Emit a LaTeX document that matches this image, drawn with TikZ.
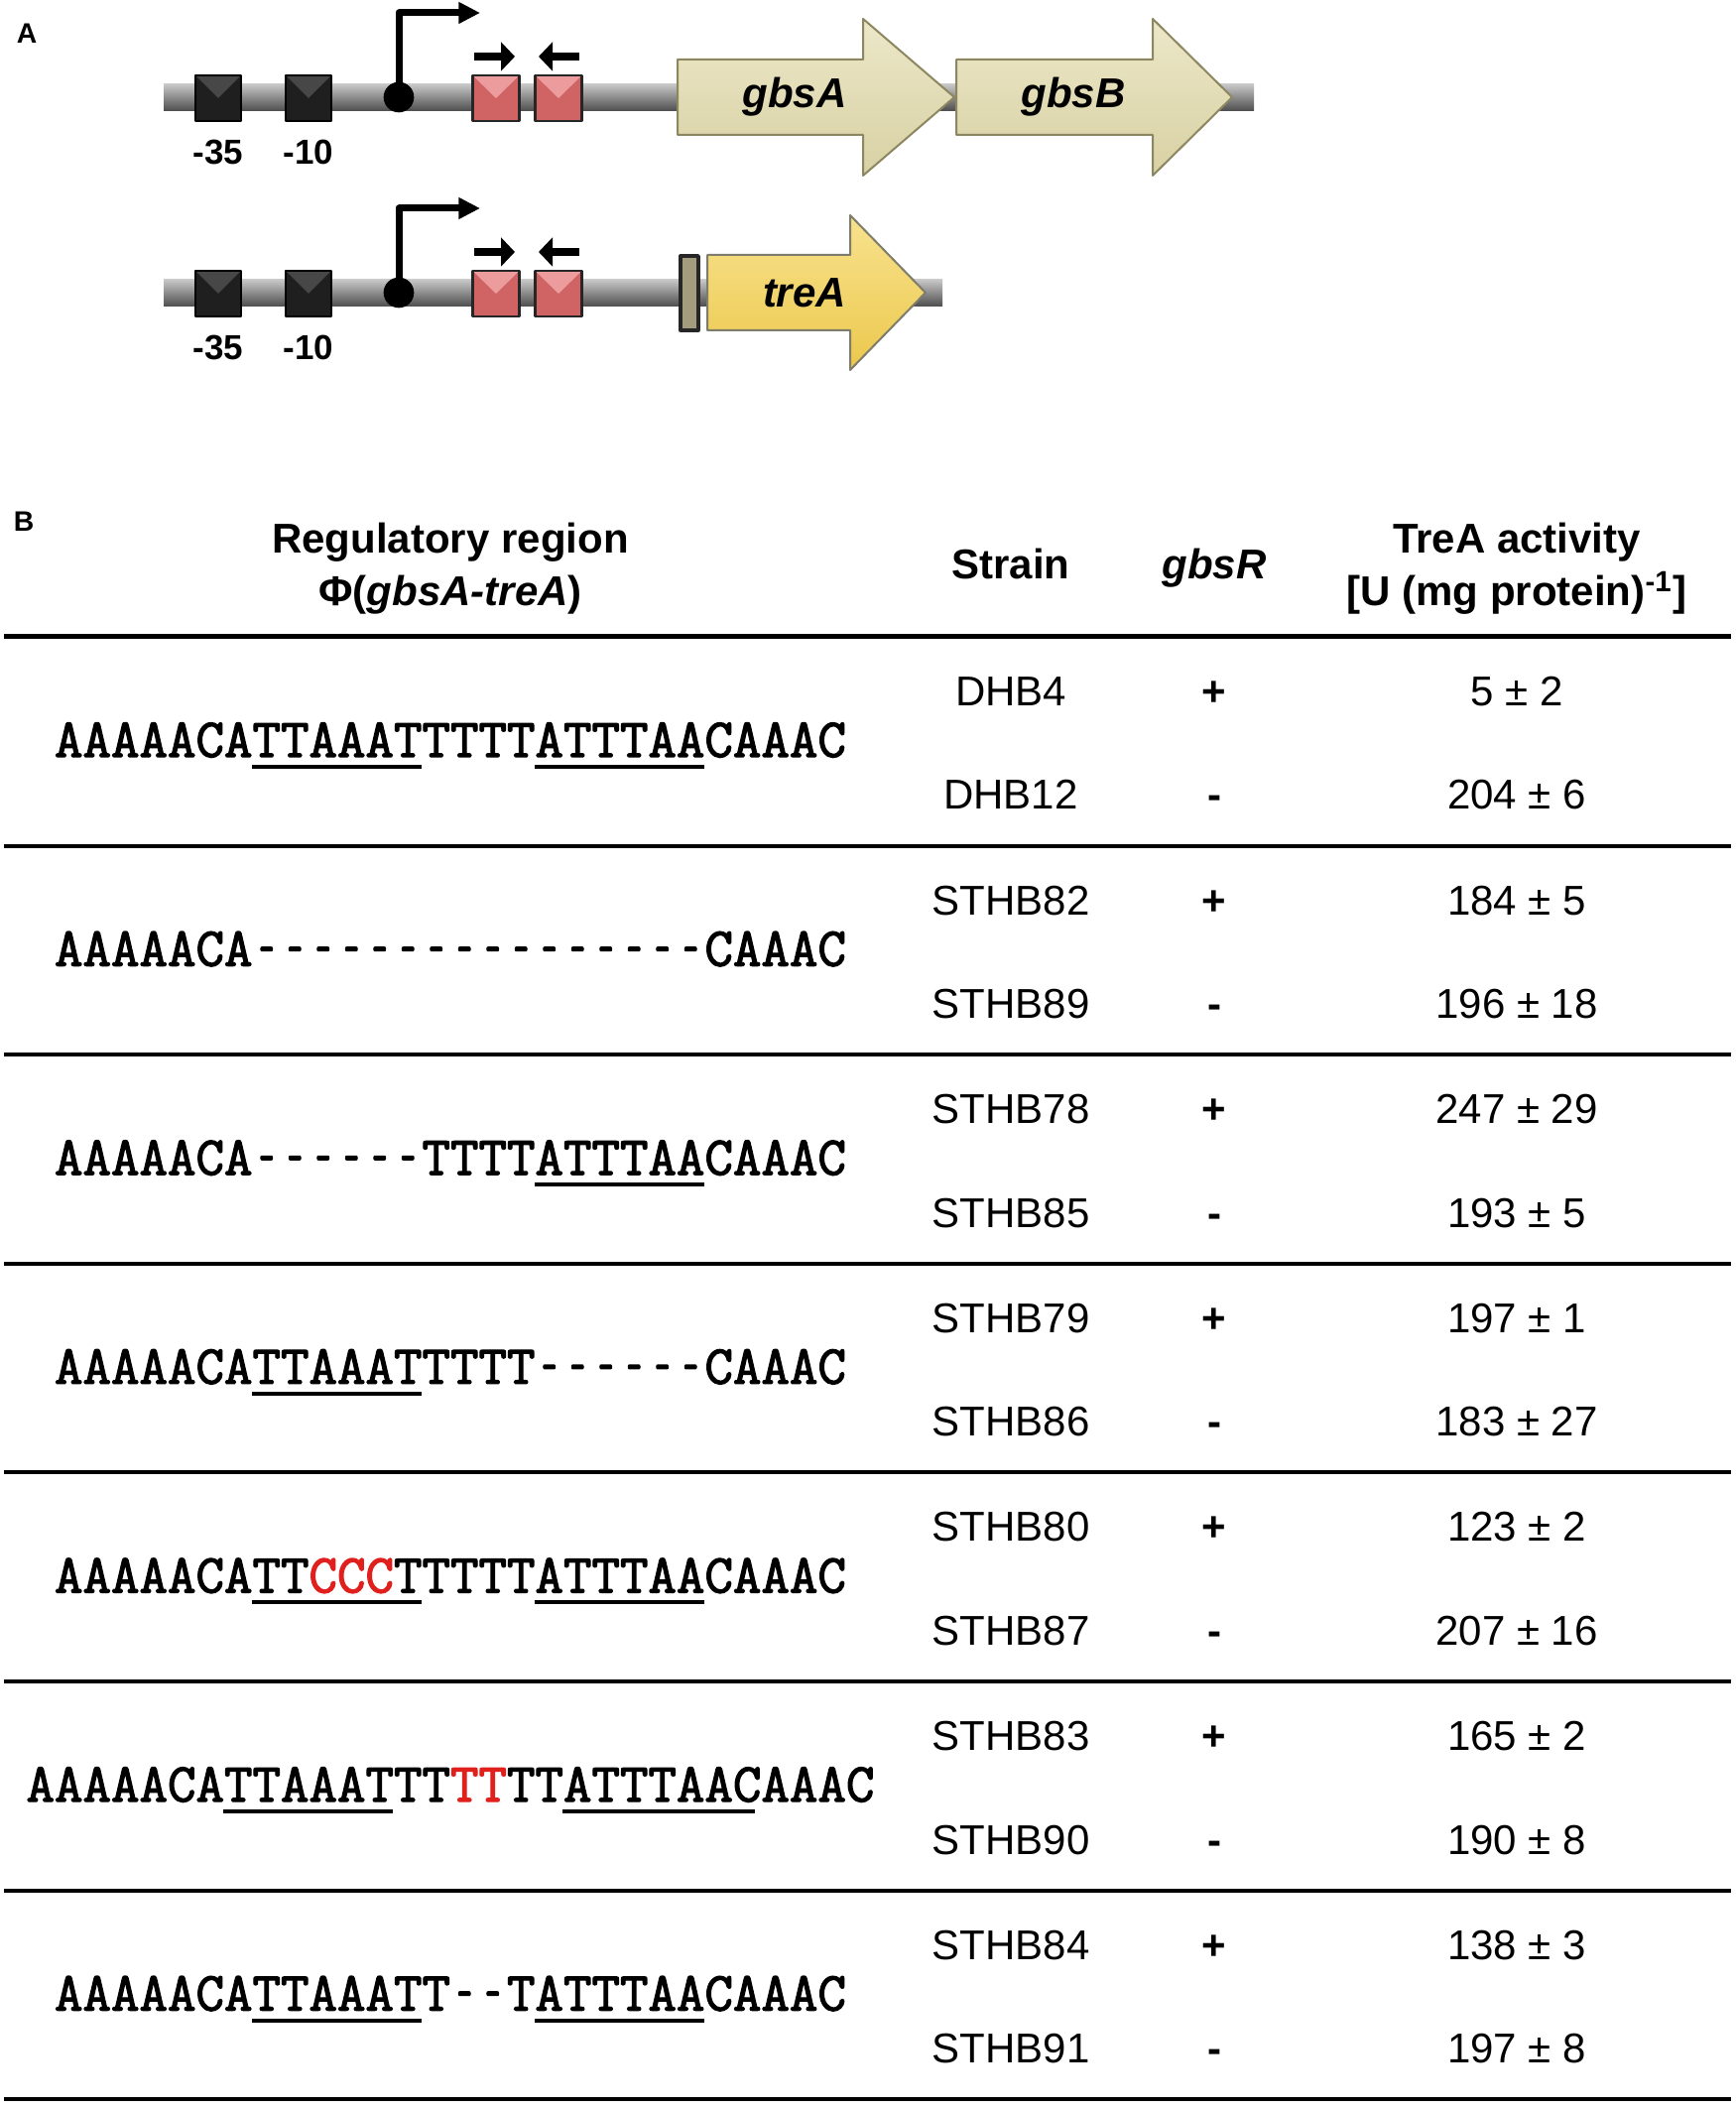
\documentclass[tikz,border=0pt]{standalone}
\usepackage{fontspec}
\setmainfont{Liberation Sans}
\newfontfamily\seqfont{Latin Modern Mono}[FakeBold=2.4]
\usetikzlibrary{arrows.meta,calc}

\definecolor{genbeige}{HTML}{D8D1A4}
\definecolor{genhell}{HTML}{ECE7C8}
\definecolor{genrand}{HTML}{8C8760}
\definecolor{treagelb}{HTML}{EBC84C}
\definecolor{treahell}{HTML}{F8E28E}
\definecolor{trearand}{HTML}{7E7C6A}
\definecolor{boxrot}{HTML}{D06464}
\definecolor{boxhell}{HTML}{EC9C9C}
\definecolor{rbsgrau}{HTML}{A39D7E}
\definecolor{mutrot}{HTML}{E0201C}

\newcommand{\seqgroesse}{\fontsize{16.6}{18}\selectfont\seqfont}
\newlength{\zw}
\settowidth{\zw}{\seqgroesse A} % Zeichenbreite
\newcommand{\ustrich}[3]{\draw[unterstrich] ([shift={(#2\zw,-7.8pt)}]#1.west) -- ([shift={(#3\zw,-7.8pt)}]#1.west);}
\newcommand{\luecke}[1]{\foreach \i in {1,...,#1}{\makebox[\zw][c]{\scalebox{0.55}[1]{-}}}}

\begin{document}
\begin{tikzpicture}[x=0.3pt,y=-0.3pt,line join=round,
  balken/.style={top color=black!22,middle color=black!42,bottom color=black!70,draw=none},
  box35/.style={draw=black,fill=black!88,line width=0.6pt,minimum width=13.8pt,minimum height=13.8pt,inner sep=0pt,
    path picture={\fill[black!72] (path picture bounding box.north west) -- (path picture bounding box.north east) -- (path picture bounding box.center) -- cycle;}},
  opbox/.style={draw=black!85,fill=boxrot,line width=0.75pt,minimum width=14.1pt,minimum height=13.8pt,inner sep=0pt,
    path picture={\fill[boxhell] (path picture bounding box.north west) -- (path picture bounding box.north east) -- (path picture bounding box.center) -- cycle;}},
  gen/.style={top color=genhell,bottom color=genbeige,draw=genrand,line width=0.6pt},
  trea/.style={top color=treahell,bottom color=treagelb,draw=trearand,line width=0.6pt},
  genname/.style={font=\fontsize{12.6}{15}\selectfont\bfseries\itshape,inner sep=0pt},
  boxlabel/.style={font=\fontsize{10.5}{12}\selectfont\bfseries,inner sep=0pt},
  teil/.style={font=\fontsize{8.5}{10}\selectfont\bfseries,inner sep=0pt},
  kopf/.style={font=\fontsize{12.6}{15}\selectfont\bfseries,inner sep=0pt,text height=9pt,text depth=0pt},
  zelle/.style={font=\fontsize{12.6}{15}\selectfont,inner sep=0pt,text height=9pt,text depth=0pt},
  sequenz/.style={font=\seqgroesse,inner sep=0pt,text height=9.6pt,text depth=0pt},
  unterstrich/.style={line width=1.2pt},
  linie/.style={line width=1.2pt}]
\useasboundingbox (0,0) rectangle (1750,2125);

% Teil A
\node[teil] (A) at (27,34) {A};
\shade[balken] (165,85) rectangle (1264,112); % Balken oben
\shade[balken] (165,282) rectangle (950,309); % Balken unten
\foreach \dy in {0,197}{
  \begin{scope}[shift={(0,\dy)}]
  \node[box35] (m35\dy) at (220,99) {}; % -35
  \node[box35] (m10\dy) at (311,99) {}; % -10
  \node[boxlabel] (l35\dy) at (220,153) {-35};
  \node[boxlabel] (l10\dy) at (311,153) {-10};
  \draw[line width=2.1pt,-{Triangle[length=6.5pt,width=6.2pt]}] (402,98) -- (402,13) -- (484,13); % Promotor
  \fill (402,98) circle (4.6pt);
  \node[opbox] (opl\dy) at (500,99) {}; % Operator
  \node[opbox] (opr\dy) at (563,99) {};
  \draw[line width=2.4pt,-{Triangle[length=4.2pt,width=8.6pt]}] (478,57) -- (519,57);
  \draw[line width=2.4pt,-{Triangle[length=4.2pt,width=8.6pt]}] (584,57) -- (543,57);
  \end{scope}
}
\draw[gen] (683,60) -- (870,60) -- (870,19) -- (962,98) -- (870,177) -- (870,136) -- (683,136) -- cycle; % gbsA
\draw[gen] (964,60) -- (1162,60) -- (1162,19) -- (1242,98) -- (1162,177) -- (1162,136) -- (964,136) -- cycle; % gbsB
\node[genname] (gbsA) at (801,98) {gbsA};
\node[genname] (gbsB) at (1082,98) {gbsB};
\draw[fill=rbsgrau,draw=black!85,line width=1pt] (686,258) rectangle (704,333); % RBS
\draw[trea] (713,257) -- (857,257) -- (857,217) -- (933,295) -- (857,373) -- (857,333) -- (713,333) -- cycle; % treA
\node[genname] (treA) at (811,295) {treA};

% Teil B
\node[teil] (B) at (24,526) {B};
\node[kopf] (regio) at (454,543) {Regulatory region};
\node[kopf] (phi) at (454,596) {Φ(\textit{gbsA-treA})};
\node[kopf] (stamm) at (1019,569) {Strain};
\node[kopf] (regler) at (1224,569) {\textit{gbsR}};
\node[kopf] (akt) at (1529,543) {TreA activity};
\node[kopf] (einheit) at (1529,596) {[U (mg protein)\textsuperscript{-1}]};
\draw[line width=1.5pt] (4,642) -- (1745,642); % Kopflinie
\foreach \g in {1,...,7}
  \draw[linie] (4,642+210.6*\g) -- (1745,642+210.6*\g);

\foreach \g/\sa/\wa/\sb/\wb in {0/DHB4/5 ± 2/DHB12/204 ± 6,1/STHB82/184 ± 5/STHB89/196 ± 18,
  2/STHB78/247 ± 29/STHB85/193 ± 5,3/STHB79/197 ± 1/STHB86/183 ± 27,4/STHB80/123 ± 2/STHB87/207 ± 16,
  5/STHB83/165 ± 2/STHB90/190 ± 8,6/STHB84/138 ± 3/STHB91/197 ± 8}{
  \node[zelle] (sa\g) at (1019,696.5+210.6*\g) {\sa};
  \node[zelle] (sb\g) at (1019,801+210.6*\g) {\sb};
  \node[zelle,font=\fontsize{12.6}{15}\selectfont\bfseries] (pa\g) at (1224,696.5+210.6*\g) {+};
  \node[zelle,font=\fontsize{12.6}{15}\selectfont\bfseries] (pb\g) at (1224,801+210.6*\g) {-};
  \node[zelle] (wa\g) at (1529,696.5+210.6*\g) {\wa};
  \node[zelle] (wb\g) at (1529,801+210.6*\g) {\wb};
}

% Sequenzen
\node[sequenz] (seq0) at (454,747) {AAAAACATTAAATTTTTATTTAACAAAC};
\ustrich{seq0}{7}{13} \ustrich{seq0}{17}{23}
\node[sequenz] (seq1) at (454,957.6) {AAAAACA\luecke{16}CAAAC};
\node[sequenz] (seq2) at (454,1168.2) {AAAAACA\luecke{6}TTTTATTTAACAAAC};
\ustrich{seq2}{17}{23}
\node[sequenz] (seq3) at (454,1378.8) {AAAAACATTAAATTTTT\luecke{6}CAAAC};
\ustrich{seq3}{7}{13}
\node[sequenz] (seq4) at (454,1589.4) {AAAAACATT\textcolor{mutrot}{CCC}TTTTTATTTAACAAAC};
\ustrich{seq4}{7}{13} \ustrich{seq4}{17}{23}
\node[sequenz] (seq5) at (454,1800) {AAAAACATTAAATTT\textcolor{mutrot}{TT}TTATTTAACAAAC};
\ustrich{seq5}{7}{13} \ustrich{seq5}{19}{25.8}
\node[sequenz] (seq6) at (454,2010.6) {AAAAACATTAAATT\luecke{2}TATTTAACAAAC};
\ustrich{seq6}{7}{13} \ustrich{seq6}{17}{23}
\end{tikzpicture}
\end{document}
